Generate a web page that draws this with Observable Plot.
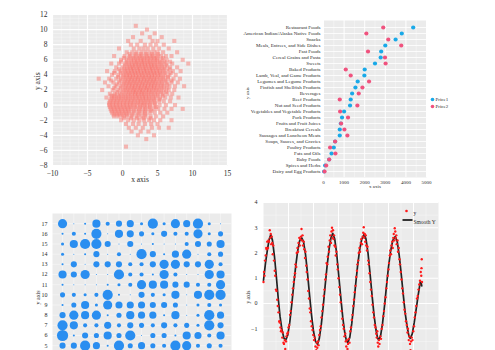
<!DOCTYPE html>
<html><head><meta charset="utf-8">
<script src="https://cdn.jsdelivr.net/npm/d3@7"></script>
<script src="https://cdn.jsdelivr.net/npm/@observablehq/plot@0.6"></script>
<style>
body{margin:0;background:#fff;}
#c{position:relative;width:495px;height:350px;overflow:hidden;background:#fff;}
.p{position:absolute;}
</style></head><body><div id="c"></div>
<script>
const SERIF = "Liberation Serif, DejaVu Serif, serif";
const PANEL_BG = "#ebebeb";
const INK = "#2b2b2b";

// ---------- Panel 1: scatter cloud ----------
const xTicks1 = [-10, -5, 0, 5, 10, 15];
const yTicks1 = [-8, -6, -4, -2, 0, 2, 4, 6, 8, 10, 12];
const cloudRows = [
  [10.5, [1.9]],
  [10, [3.5]],
  [9.5, [2.8, 4.6]],
  [9, [1.5, 3.9, 5.6]],
  [8.5, [0.8, 2.6, 4.3, 5.0, 7.4]],
  [8, [1.2, 2.1, 3.2, 4.0, 4.8, 5.9]],
  [7.5, [-0.5, 1.6, 2.4, 3.0, 3.6, 4.4, 5.2, 6.6]],
  [7, [0.6, 1.4, 2.0, 2.7, 3.3, 3.9, 4.5, 5.0, 5.8, 7.8]],
  [6.75, [1.0, 1.9, 2.6, 3.4, 4.2, 5.1]],
  [6.5, [-1.2, 0.3, 1.1, 1.7, 2.3, 2.8, 3.4, 3.9, 4.4, 4.9, 5.5, 6.2, 7.0]],
  [6.25, [0.2, 0.9, 1.5, 2.0, 2.5, 3.0, 3.5, 4.0, 4.5, 5.0, 5.8]],
  [6, [-0.2, 0.6, 1.2, 1.7, 2.2, 2.7, 3.1, 3.6, 4.1, 4.6, 5.0, 5.6, 6.3, 8.6]],
  [5.75, [-0.2, 0.6, 1.2, 1.7, 2.1, 2.6, 3.0, 3.5, 3.9, 4.4, 4.9, 5.4, 6.0, 6.8]],
  [5.5, [-1.6, -0.5, 0.4, 0.9, 1.4, 1.9, 2.3, 2.8, 3.2, 3.7, 4.1, 4.6, 5.1, 5.6, 6.2, 7.1, 9.4]],
  [5.25, [0.3, 0.9, 1.4, 1.8, 2.3, 2.7, 3.2, 3.6, 4.1, 4.5, 5.0, 5.6, 6.3]],
  [5, [-0.9, 0.0, 0.6, 1.1, 1.5, 2.0, 2.4, 2.9, 3.3, 3.8, 4.2, 4.7, 5.1, 5.6, 6.1, 6.8, 7.8]],
  [4.75, [-0.5, 0.2, 0.7, 1.2, 1.6, 2.1, 2.5, 3.0, 3.4, 3.9, 4.3, 4.8, 5.3, 5.9, 6.7]],
  [4.5, [-2.2, -1.1, -0.3, 0.3, 0.8, 1.3, 1.7, 2.2, 2.6, 3.1, 3.5, 4.0, 4.4, 4.9, 5.3, 5.8, 6.4, 7.2, 8.3]],
  [4.25, [-1.2, -0.2, 0.4, 0.9, 1.3, 1.8, 2.2, 2.7, 3.1, 3.6, 4.0, 4.5, 4.9, 5.4, 6.0, 6.9]],
  [4, [-1.5, -0.6, 0.1, 0.6, 1.0, 1.5, 1.9, 2.4, 2.8, 3.3, 3.7, 4.2, 4.6, 5.1, 5.5, 6.1, 6.7, 7.6]],
  [3.75, [-0.6, 0.1, 0.6, 1.1, 1.5, 2.0, 2.4, 2.9, 3.3, 3.8, 4.2, 4.7, 5.2, 5.8, 6.5]],
  [3.5, [-3.4, -1.9, -0.9, -0.2, 0.4, 0.9, 1.3, 1.8, 2.2, 2.7, 3.1, 3.6, 4.0, 4.5, 4.9, 5.4, 5.9, 6.5, 7.3, 8.2]],
  [3.25, [-1.6, -0.3, 0.3, 0.8, 1.3, 1.7, 2.2, 2.6, 3.1, 3.5, 4.0, 4.4, 4.9, 5.5, 6.1, 7.0]],
  [3, [-2.5, -1.3, -0.5, 0.2, 0.7, 1.1, 1.6, 2.0, 2.5, 2.9, 3.4, 3.8, 4.3, 4.7, 5.2, 5.7, 6.3, 7.0, 7.9]],
  [2.75, [-0.8, 0.0, 0.5, 1.0, 1.4, 1.9, 2.3, 2.8, 3.2, 3.7, 4.1, 4.6, 5.1, 5.7, 6.4]],
  [2.5, [-2.0, -1.0, -0.2, 0.4, 0.9, 1.4, 1.8, 2.3, 2.7, 3.2, 3.6, 4.1, 4.5, 5.0, 5.5, 6.0, 6.7, 7.5, 8.8]],
  [2.25, [-1.2, -0.3, 0.3, 0.8, 1.3, 1.7, 2.2, 2.6, 3.1, 3.5, 4.0, 4.5, 5.0, 5.6, 6.3]],
  [2, [-2.9, -1.4, -0.6, 0.1, 0.6, 1.1, 1.6, 2.0, 2.5, 2.9, 3.4, 3.8, 4.3, 4.8, 5.3, 5.9, 6.6, 7.4]],
  [1.75, [-0.8, -0.1, 0.5, 1.0, 1.5, 1.9, 2.4, 2.8, 3.3, 3.8, 4.3, 4.9, 5.5, 6.2]],
  [1.5, [-1.8, -1.1, -0.4, 0.2, 0.8, 1.3, 1.8, 2.2, 2.7, 3.1, 3.6, 4.1, 4.6, 5.1, 5.7, 6.4, 7.1]],
  [1.25, [-1.6, -1.2, -0.7, -0.2, 0.3, 0.8, 1.3, 1.8, 2.3, 2.8, 3.3, 3.8, 4.4, 5.0, 5.8]],
  [1, [-2.3, -1.5, -1.0, -0.5, 0.0, 0.5, 1.0, 1.5, 2.0, 2.4, 2.9, 3.3, 3.8, 4.3, 4.8, 5.4, 6.1, 6.9, 8.0]],
  [0.75, [-1.7, -1.2, -0.7, -0.2, 0.3, 0.8, 1.3, 1.8, 2.4, 2.9, 3.4, 3.9, 4.5, 5.3]],
  [0.5, [-1.8, -1.3, -0.8, -0.3, 0.2, 0.7, 1.2, 1.7, 2.2, 2.6, 3.1, 3.6, 4.1, 4.6, 5.2, 5.9, 6.8]],
  [0.25, [-1.9, -1.4, -0.9, -0.4, 0.1, 0.6, 1.1, 1.6, 2.2, 2.8, 3.3, 3.9, 4.6]],
  [0, [-1.9, -1.4, -0.9, -0.4, 0.1, 0.6, 1.1, 1.6, 2.1, 2.6, 3.0, 3.5, 4.0, 4.6, 5.3, 6.2, 7.5]],
  [-0.25, [-1.8, -1.3, -0.8, -0.3, 0.2, 0.7, 1.2, 1.8, 2.5, 3.2, 3.9, 4.8]],
  [-0.5, [-1.7, -1.2, -0.7, -0.2, 0.3, 0.8, 1.3, 1.9, 2.4, 2.9, 3.4, 3.9, 4.5, 5.1, 6.0, 7.0, 8.6]],
  [-0.75, [-1.6, -1.1, -0.6, -0.1, 0.4, 0.9, 1.6, 2.4, 3.2, 4.1]],
  [-1, [-1.5, -1.0, -0.5, 0.0, 0.5, 1.0, 1.6, 2.2, 2.8, 3.3, 3.9, 4.6, 5.4, 6.4]],
  [-1.25, [-1.3, -0.8, -0.3, 0.2, 0.7, 1.4, 2.3, 3.2]],
  [-1.5, [-1.2, -0.6, 0.0, 0.6, 1.3, 2.0, 2.7, 3.3, 4.0, 4.8, 5.8]],
  [-1.75, [0.2, 1.2, 2.1, 3.0, 4.0]],
  [-2, [-0.2, 0.8, 1.6, 2.4, 3.1, 3.8, 4.5, 5.4, 7.0]],
  [-2.5, [0.5, 1.5, 2.3, 3.2, 4.1, 5.0]],
  [-3, [0.9, 1.9, 2.9, 4.2, 5.2, 6.6]],
  [-3.5, [1.3, 2.6, 3.7]],
  [-4, [2.2, 4.5]],
  [-4.5, [3.4]],
  [-5.5, [0.5]]
];

// ---------- Panel 2: dot plot ----------
const categories = [
  "Restaurant Foods", "American Indian/Alaska Native Foods", "Snacks",
  "Meals, Entrees, and Side Dishes", "Fast Foods", "Cereal Grains and Pasta", "Sweets",
  "Baked Products", "Lamb, Veal, and Game Products", "Legumes and Legume Products",
  "Finfish and Shellfish Products", "Beverages", "Beef Products", "Nut and Seed Products",
  "Vegetables and Vegetable Products", "Pork Products", "Fruits and Fruit Juices",
  "Breakfast Cereals", "Sausages and Luncheon Meats", "Soups, Sauces, and Gravies",
  "Poultry Products", "Fats and Oils", "Baby Foods", "Spices and Herbs", "Dairy and Egg Products"
];
const price1 = [4355, 3800, 3500, 3000, 2800, 2775, 2500, 2000, 1985, 1660, 1550, 1390, 1320, 1290, 1000, 900, 840, 790, 790, 565, 500, 390, 275, 80, 30];
const price2 = [2900, 2080, 3145, 3775, 2160, 2985, 3015, 1080, 1320, 2210, 1890, 1710, 790, 1645, 806, 1190, 855, 1015, 1160, 565, 320, 580, 275, 130, 50];
const seriesNames = ["Price1", "Price2"];
const seriesColors = ["#19a9e8", "#f0527e"];
const xTicks2 = [0, 1000, 2000, 3000, 4000, 5000];

// ---------- Panel 3: bubble grid ----------
const bubbleRowLabels = [17, 16, 15, 14, 13, 12, 11, 10, 9, 8, 7, 6, 5];
const bubbleCols = [1, 2, 3, 4, 5, 6, 7, 8, 9, 10, 11, 12, 13, 14, 15];
const bubbleSizes = [
  [4.5, 0.5, 1, 4, 2, 3, 3.5, 1.5, 5, 1.5, 4.5, 3.5, 5, 1.5, 0.5],
  [1, 2, 1, 5, 0.5, 4, 3.5, 2.5, 1.5, 3, 2, 2, 4.5, 1.5, 2.5],
  [1.5, 4, 5, 5, 3, 0.5, 3, 0.5, 1, 0.5, 0.5, 2, 3, 2.5, 4],
  [1.5, 0.5, 1, 3, 0.5, 2, 0.5, 5, 3, 1, 3.5, 4.5, 0.5, 2, 2.5],
  [1, 3, 0.5, 3, 3, 3, 2, 2, 3, 4.5, 4.5, 3, 3, 4.5, 2],
  [4, 3, 4.5, 0.5, 0.5, 5, 2, 2, 1, 4.5, 2, 0.5, 0.5, 4.5, 4],
  [1, 0.5, 0.5, 0.5, 1, 1.5, 2, 4.5, 4, 4, 3, 3, 2, 2, 4.5],
  [2.5, 2, 1.5, 2, 5, 1, 0.5, 3, 2, 1.5, 4, 0.5, 4, 5, 5],
  [1, 2.5, 4, 1.5, 4.5, 3.5, 3.5, 3.5, 3, 3, 2.5, 0.5, 1.5, 2, 1.5],
  [3, 4.5, 4, 4.5, 1, 2.5, 4, 3.5, 3.5, 1, 4, 0.5, 1.5, 5, 3.5],
  [5, 4, 2, 2, 3.5, 2, 3, 2.5, 2, 3, 2, 2.5, 1.5, 5, 3],
  [5.5, 1, 3, 2.5, 4, 2.5, 5, 0.5, 2.5, 2.5, 1, 4, 3.5, 2, 4],
  [3, 3, 5, 3.5, 1, 5, 2.5, 3.5, 2.5, 2, 5, 4.5, 2, 2.5, 2]
];
const yTicks3 = [5, 6, 7, 8, 9, 10, 11, 12, 13, 14, 15, 16, 17];

// ---------- Panel 4: noisy wave + smooth ----------
const smoothY = [
  [0,0.92],[0.08,1.6],[0.16,2.15],[0.23,2.55],[0.29,2.72],[0.36,2.5],[0.44,1.85],[0.52,1.0],[0.59,0.2],[0.66,-0.5],
  [0.74,-1.05],[0.82,-1.38],[0.89,-1.44],[0.97,-1.25],[1.05,-0.75],[1.13,-0.05],[1.21,0.75],[1.29,1.5],[1.37,2.1],[1.45,2.5],
  [1.53,2.6],[1.60,2.45],[1.68,1.95],[1.76,1.2],[1.84,0.35],[1.92,-0.45],[2.00,-1.1],[2.08,-1.5],[2.16,-1.61],[2.23,-1.4],
  [2.31,-0.85],[2.39,-0.1],[2.47,0.75],[2.55,1.55],[2.63,2.2],[2.70,2.6],[2.77,2.78],[2.85,2.55],[2.93,1.95],[3.01,1.1],
  [3.09,0.25],[3.17,-0.55],[3.25,-1.15],[3.31,-1.45],[3.37,-1.55],[3.45,-1.35],[3.53,-0.8],[3.61,-0.05],[3.69,0.8],[3.77,1.55],
  [3.85,2.15],[3.93,2.55],[4.03,2.75],[4.10,2.55],[4.18,2.0],[4.26,1.2],[4.34,0.35],[4.42,-0.45],[4.50,-1.05],[4.56,-1.35],
  [4.60,-1.44],[4.68,-1.3],[4.76,-0.8],[4.84,-0.1],[4.92,0.7],[5.00,1.45],[5.08,2.05],[5.17,2.5],[5.27,2.65],[5.35,2.45],
  [5.43,1.9],[5.51,1.15],[5.59,0.35],[5.67,-0.4],[5.75,-0.95],[5.82,-1.3],[5.87,-1.38],[5.95,-1.2],[6.03,-0.75],[6.11,-0.2],
  [6.19,0.35],[6.27,0.85],[6.31,0.8],[6.33,0.7]
];
const rawY = [
  [0.00,0.85],[0.02,1.25],[0.04,1.1],[0.06,1.7],[0.09,1.9],[0.11,2.2],[0.13,2.15],[0.15,2.45],[0.18,2.2],[0.20,2.5],
  [0.22,2.45],[0.25,2.9],[0.27,2.6],[0.29,2.75],[0.31,2.35],[0.33,2.65],[0.35,2.4],[0.37,1.95],[0.39,2.3],[0.42,1.7],
  [0.45,1.3],[0.47,1.1],[0.50,0.55],[0.52,0.5],[0.55,0.15],[0.57,-0.1],[0.60,-0.35],[0.63,-0.7],[0.65,-0.75],[0.68,-0.95],
  [0.70,-1.1],[0.72,-1.05],[0.75,-1.35],[0.77,-1.15],[0.80,-1.55],[0.82,-1.6],[0.85,-1.45],[0.87,-1.8],[0.90,-1.5],[0.92,-1.3],
  [0.95,-1.2],[0.98,-1.15],[1.00,-0.95],[1.03,-0.85],[1.06,-0.45],[1.09,-0.3],[1.12,0.05],[1.15,0.35],[1.18,0.6],[1.21,0.85],
  [1.24,1.05],[1.26,1.2],[1.28,1.55],[1.31,1.45],[1.33,2.0],[1.36,2.2],[1.38,2.05],[1.40,2.4],[1.43,2.6],[1.45,2.3],
  [1.47,2.55],[1.50,2.65],[1.52,2.95],[1.54,2.5],[1.56,2.7],[1.58,2.3],[1.61,2.45],[1.63,2.15],[1.66,1.8],[1.68,2.05],
  [1.71,1.5],[1.73,1.25],[1.76,0.95],[1.79,0.5],[1.82,0.2],[1.85,-0.2],[1.87,-0.35],[1.90,-0.7],[1.93,-0.9],[1.96,-1.05],
  [1.99,-1.25],[2.02,-1.45],[2.05,-1.35],[2.08,-1.7],[2.11,-1.85],[2.13,-1.55],[2.15,-1.75],[2.18,-1.5],[2.20,-1.65],[2.23,-1.25],
  [2.26,-1.05],[2.29,-0.9],[2.32,-0.55],[2.35,-0.3],[2.38,-0.05],[2.41,0.3],[2.44,0.55],[2.47,0.95],
  [2.50,1.15],[2.52,1.6],[2.55,1.55],[2.57,1.85],[2.60,2.25],[2.62,2.05],[2.65,2.5],[2.67,2.7],[2.70,2.4],[2.72,2.85],
  [2.74,3.0],[2.76,2.6],[2.78,2.9],[2.80,2.55],[2.82,2.7],[2.84,2.3],[2.87,2.25],[2.89,1.9],[2.92,2.05],[2.95,1.55],
  [2.97,1.35],[3.00,1.0],[3.03,0.65],[3.06,0.35],[3.09,0.05],[3.12,-0.3],[3.15,-0.6],[3.18,-0.85],[3.21,-1.0],[3.24,-1.3],
  [3.27,-1.2],[3.29,-1.5],[3.31,-1.7],[3.34,-1.45],[3.36,-1.8],[3.38,-1.6],[3.41,-1.4],[3.44,-1.55],[3.47,-1.1],[3.50,-0.95],
  [3.53,-0.65],[3.56,-0.45],[3.59,-0.1],[3.62,0.15],[3.65,0.45],[3.68,0.7],[3.71,1.05],
  [3.74,1.3],[3.76,1.55],[3.79,1.7],[3.81,2.0],[3.84,2.2],[3.86,2.05],[3.89,2.4],[3.91,2.55],[3.94,2.35],[3.97,2.65],
  [3.99,2.8],[4.01,3.02],[4.03,2.6],[4.05,2.75],[4.07,2.45],[4.09,2.7],[4.11,2.3],[4.14,2.1],[4.16,2.25],[4.19,1.7],
  [4.21,1.55],[4.24,1.2],[4.27,0.85],[4.30,0.55],[4.33,0.3],[4.36,-0.05],[4.39,-0.35],[4.42,-0.55],[4.45,-0.85],[4.48,-0.95],
  [4.51,-1.2],[4.53,-1.35],[4.55,-1.1],[4.57,-1.55],[4.59,-1.7],[4.62,-1.45],[4.64,-1.6],[4.67,-1.3],[4.70,-1.4],[4.73,-1.0],
  [4.76,-0.85],[4.79,-0.5],[4.82,-0.3],[4.85,0.0],[4.88,0.25],[4.91,0.6],[4.94,0.85],[4.97,1.1],
  [5.00,1.35],[5.02,1.6],[5.05,1.9],[5.07,2.1],[5.10,1.95],[5.12,2.3],[5.15,2.45],[5.17,2.2],[5.19,2.6],[5.21,2.75],
  [5.23,2.5],[5.25,2.98],[5.27,2.85],[5.29,2.6],[5.31,2.7],[5.33,2.35],[5.36,2.5],[5.38,2.05],[5.41,2.2],[5.44,1.75],
  [5.46,1.55],[5.49,1.25],[5.52,0.95],[5.55,0.6],[5.58,0.4],[5.61,0.05],[5.64,-0.25],[5.67,-0.4],[5.70,-0.7],[5.73,-0.85],
  [5.76,-1.15],[5.78,-1.0],[5.81,-1.45],[5.83,-1.3],[5.86,-1.6],[5.88,-1.85],[5.90,-1.5],[5.93,-1.35],[5.96,-1.45],[5.99,-1.1],
  [6.02,-0.9],[6.05,-0.55],[6.08,-0.35],[6.11,-0.1],[6.14,0.2],[6.17,0.3],[6.20,0.55],[6.23,0.75],[6.26,0.9],[6.29,1.25],
  [6.31,1.1],[6.33,1.75],[6.32,1.4],[6.34,0.85]
];
const yTicks4 = [-1, 0, 1, 2, 3, 4];
const legend4 = ["y", "Smooth Y"];

// ---------- helpers ----------
const range = (a, b, s) => { const out = []; for (let v = a; v <= b + 1e-9; v += s) out.push(+v.toFixed(6)); return out; };
const baseStyle = {fontFamily: SERIF, fontSize: "7px", background: "transparent", color: INK, overflow: "visible"};
function place(svg, left, top) {
  const d = document.createElement("div");
  d.className = "p"; d.style.left = left + "px"; d.style.top = top + "px";
  d.appendChild(svg); document.getElementById("c").appendChild(d);
}

// ---------- Panel 1 ----------
const cloud = cloudRows.flatMap(([y, xs]) => xs.map(x => ({x, y})));
place(Plot.plot({
  width: 240, height: 195, marginLeft: 52, marginRight: 13, marginTop: 14, marginBottom: 30,
  style: baseStyle,
  x: {domain: [-10, 15]},
  y: {domain: [-8, 12]},
  marks: [
    Plot.frame({fill: PANEL_BG, stroke: "none"}),
    Plot.gridX(range(-10, 15, 1.25), {stroke: "#fff", strokeOpacity: 0.7, strokeWidth: 0.5}),
    Plot.gridY(range(-8, 12, 0.5), {stroke: "#fff", strokeOpacity: 0.7, strokeWidth: 0.5}),
    Plot.gridX(xTicks1, {stroke: "#fff", strokeOpacity: 1, strokeWidth: 1.2}),
    Plot.gridY(yTicks1, {stroke: "#fff", strokeOpacity: 1, strokeWidth: 1.2}),
    Plot.dot(cloud, {x: "x", y: "y", r: 2.3, symbol: "square", fill: "#f8766d", fillOpacity: 0.48, stroke: "none"}),
    Plot.axisX(xTicks1, {tickSize: 0, tickPadding: 5, label: null, fontSize: 7.5, fill: INK}),
    Plot.axisY(yTicks1, {tickSize: 0, tickPadding: 5, label: null, fontSize: 7.5, fill: INK}),
    Plot.text(["x axis"], {text: d => d, frameAnchor: "bottom", dy: 16, fontSize: 7.5, fill: INK}),
    Plot.text(["y axis"], {text: d => d, frameAnchor: "left", dx: -15, rotate: -90, fontSize: 7.5, fill: INK})
  ]
}), 0, 0);

// ---------- Panel 2 ----------
const dots2 = [
  ...categories.map((c, i) => ({cat: c, v: price1[i], s: seriesNames[0]})),
  ...categories.map((c, i) => ({cat: c, v: price2[i], s: seriesNames[1]}))
];
place(Plot.plot({
  width: 255, height: 195, marginLeft: 83, marginRight: 69, marginTop: 20, marginBottom: 18,
  style: baseStyle,
  x: {domain: [0, 5000]},
  y: {type: "point", domain: categories, padding: 0.5},
  color: {domain: seriesNames, range: seriesColors},
  marks: [
    Plot.frame({fill: PANEL_BG, stroke: "none"}),
    Plot.gridX(range(500, 4500, 1000), {stroke: "#fff", strokeOpacity: 0.7, strokeWidth: 0.5}),
    Plot.gridX(xTicks2, {stroke: "#fff", strokeOpacity: 1, strokeWidth: 1}),
    Plot.gridY(categories, {stroke: "#fff", strokeOpacity: 1, strokeWidth: 0.8}),
    Plot.dot(dots2, {x: "v", y: "cat", fill: "s", r: 2.1, stroke: "none"}),
    Plot.axisX(xTicks2, {tickSize: 0, tickPadding: 3, label: null, fontSize: 5, tickFormat: d => String(d), fill: INK}),
    Plot.axisY(categories, {tickSize: 0, tickPadding: 3, label: null, fontSize: 5, fill: INK}),
    Plot.text(["x axis"], {text: d => d, frameAnchor: "bottom", dy: 10, fontSize: 5, fill: INK}),
    Plot.text(["y axis"], {text: d => d, frameAnchor: "left", dx: -76, rotate: -90, fontSize: 5, fill: INK}),
    Plot.dot([seriesNames[0]], {frameAnchor: "right", dx: 6, dy: 0.5, fill: seriesColors[0], r: 1.8, stroke: "none"}),
    Plot.dot([seriesNames[1]], {frameAnchor: "right", dx: 6, dy: 7.5, fill: seriesColors[1], r: 1.8, stroke: "none"}),
    Plot.text([seriesNames[0]], {text: d => d, frameAnchor: "right", dx: 9, dy: 0.5, textAnchor: "start", fontSize: 5, fill: INK}),
    Plot.text([seriesNames[1]], {text: d => d, frameAnchor: "right", dx: 9, dy: 7.5, textAnchor: "start", fontSize: 5, fill: INK})
  ]
}), 240, 0);

// ---------- Panel 3 ----------
const bubbles = bubbleRowLabels.flatMap((row, i) => bubbleCols.map((col, j) => ({col, row, s: bubbleSizes[i][j]})));
place(Plot.plot({
  width: 240, height: 205, marginLeft: 52, marginRight: 9, marginTop: 18, marginBottom: 5,
  style: baseStyle,
  x: {domain: [0.11, 15.97], axis: null},
  y: {domain: [0.1, 18]},
  r: {type: "linear", domain: [0, 5.5], range: [0, 5.6]},
  marks: [
    Plot.frame({fill: PANEL_BG, stroke: "none"}),
    Plot.gridX(bubbleCols, {stroke: "#fff", strokeOpacity: 0.8, strokeWidth: 0.5}),
    Plot.gridY(range(1, 17, 1), {stroke: "#fff", strokeOpacity: 0.8, strokeWidth: 0.5}),
    Plot.dot(bubbles, {x: "col", y: "row", r: "s", fill: "#2a8ef0", stroke: "none"}),
    Plot.axisY(yTicks3, {tickSize: 0, tickPadding: 5, label: null, fontSize: 6, fill: INK}),
    Plot.text(["y axis"], {text: d => d, frameAnchor: "left", dx: -14, rotate: -90, fontSize: 6, fill: INK})
  ]
}), 0, 195);

// ---------- Panel 4 ----------
const lineSym = {draw(ctx, size) { const w = 5; ctx.moveTo(-w, 0); ctx.lineTo(w, 0); }};
place(Plot.plot({
  width: 255, height: 240, marginLeft: 23, marginRight: 57, marginTop: 7, marginBottom: 31,
  style: baseStyle,
  x: {domain: [0, 7], axis: null},
  y: {domain: [-4, 4]},
  marks: [
    Plot.frame({fill: PANEL_BG, stroke: "none"}),
    Plot.gridX(range(0.5, 6.5, 1), {stroke: "#fff", strokeOpacity: 0.7, strokeWidth: 0.5}),
    Plot.gridY(range(-3.5, 3.5, 1), {stroke: "#fff", strokeOpacity: 0.7, strokeWidth: 0.5}),
    Plot.gridX(range(1, 6, 1), {stroke: "#fff", strokeOpacity: 1, strokeWidth: 1.1}),
    Plot.gridY(range(-4, 4, 1), {stroke: "#fff", strokeOpacity: 1, strokeWidth: 1.1}),
    Plot.line(smoothY, {x: d => d[0], y: d => d[1], stroke: "#222", strokeWidth: 1.7}),
    Plot.dot(rawY, {x: d => d[0], y: d => d[1], r: 1.2, fill: "#ff1a1a", stroke: "none"}),
    Plot.axisY(yTicks4, {tickSize: 0, tickPadding: 6, label: null, fontSize: 6, fill: INK}),
    Plot.text(["y axis"], {text: d => d, frameAnchor: "left", dx: -15, rotate: -90, fontSize: 5.5, fill: INK}),
    Plot.dot([legend4[0]], {frameAnchor: "top-right", dx: -32, dy: 8.5, r: 1.3, fill: "#ff1a1a", stroke: "none"}),
    Plot.dot([legend4[1]], {frameAnchor: "top-right", dx: -31, dy: 17.5, symbol: lineSym, stroke: "#222", strokeWidth: 1.8, fill: "none"}),
    Plot.text([legend4[0]], {text: d => d, frameAnchor: "top-right", dx: -25, dy: 8.5, textAnchor: "start", fontSize: 5.5, fill: INK}),
    Plot.text([legend4[1]], {text: d => d, frameAnchor: "top-right", dx: -25, dy: 17.5, textAnchor: "start", fontSize: 5.5, fill: INK})
  ]
}), 240, 195);
</script></body></html>
